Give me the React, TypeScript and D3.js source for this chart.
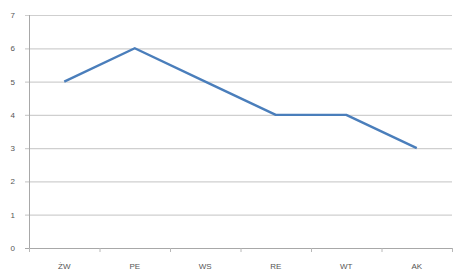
import { useEffect, useRef } from 'react'
import * as d3 from 'd3'

const CATEGORIES = ['ŻW', 'PE', 'WS', 'RE', 'WT', 'AK']
const VALUES = [5, 6, 5, 4, 4, 3]
const Y_TICKS = [0, 1, 2, 3, 4, 5, 6, 7]

const W = 463
const H = 277

export default function App() {
  const svgRef = useRef<SVGSVGElement>(null)

  useEffect(() => {
    if (!svgRef.current) return
    const margin = { top: 15, right: 11, bottom: 29, left: 29 }
    const svg = d3.select(svgRef.current)
    svg.selectAll('*').remove()

    svg.append('rect').attr('width', W).attr('height', H).attr('fill', '#fff')

    const x = d3.scaleBand<string>()
      .domain(CATEGORIES)
      .range([margin.left, W - margin.right])
    const y = d3.scaleLinear()
      .domain([0, 7])
      .range([H - margin.bottom, margin.top])

    // gridlines
    svg.append('g')
      .selectAll('line')
      .data(Y_TICKS)
      .join('line')
      .attr('x1', margin.left - 4)
      .attr('x2', W - margin.right)
      .attr('y1', (d) => y(d) + 0.5)
      .attr('y2', (d) => y(d) + 0.5)
      .attr('stroke', (d) => (d === 0 ? '#a8a8a8' : '#cfcfcf'))
      .attr('stroke-width', 1.2)

    // y axis line
    svg.append('line')
      .attr('x1', margin.left + 0.5).attr('x2', margin.left + 0.5)
      .attr('y1', y(7)).attr('y2', y(0))
      .attr('stroke', '#a8a8a8')

    // x axis ticks between categories
    const bounds = [...CATEGORIES.map((c) => x(c)!), W - margin.right]
    svg.append('g')
      .selectAll('line')
      .data(bounds)
      .join('line')
      .attr('x1', (d) => d + 0.5).attr('x2', (d) => d + 0.5)
      .attr('y1', y(0)).attr('y2', y(0) + 4)
      .attr('stroke', '#b8b8b8')

    // y labels
    svg.append('g')
      .selectAll('text')
      .data(Y_TICKS)
      .join('text')
      .attr('x', 15)
      .attr('y', (d) => y(d) + 3)
      .attr('text-anchor', 'end')
      .style('font-family', 'Arial, "Liberation Sans", sans-serif')
      .style('font-size', '8px')
      .style('fill', '#555')
      .text((d) => d)

    // x labels
    svg.append('g')
      .selectAll('text')
      .data(CATEGORIES)
      .join('text')
      .attr('x', (d) => x(d)! + x.bandwidth() / 2)
      .attr('y', H - 8)
      .attr('text-anchor', 'middle')
      .style('font-family', 'Arial, "Liberation Sans", sans-serif')
      .style('font-size', '8px')
      .style('fill', '#555')
      .text((d) => d)

    const line = d3.line<number>()
      .x((_, i) => x(CATEGORIES[i])! + x.bandwidth() / 2)
      .y((d) => y(d))

    svg.append('path')
      .datum(VALUES)
      .attr('fill', 'none')
      .attr('stroke', '#4a7ebb')
      .attr('stroke-width', 2.4)
      .attr('stroke-linejoin', 'round')
      .attr('d', line)
  }, [])

  return (
    <svg
      ref={svgRef}
      width={W}
      height={H}
      style={{ position: 'absolute', left: 0, top: 0, display: 'block' }}
    />
  )
}
